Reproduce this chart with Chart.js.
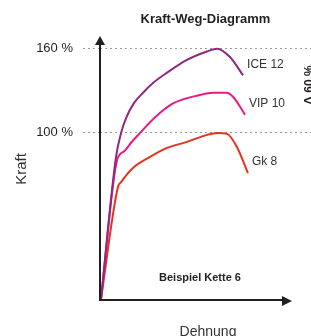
<!DOCTYPE html>
<html>
<head>
<meta charset="utf-8">
<script src="https://cdn.jsdelivr.net/npm/chart.js@4/dist/chart.umd.min.js"></script>
<style>
    html, body { margin: 0; padding: 0; background: #fff; }
    #wrap { width: 311px; height: 336px; }
</style>
</head>
<body>
<div id="wrap"><canvas id="kraftWegChart"></canvas></div>
<script>
// Kraft-Weg-Diagramm (Beispiel Kette 6)

const yTicks = [100, 160];

const dehnungICE = [0.5, 7.5, 10, 12.5, 16, 20.4, 25.5, 31.8, 41.2, 50.7, 55.5, 61.6, 67.8];
const kraftICE   = [-18, 82, 100, 111, 121, 128.6, 136, 142.9, 152, 158, 160, 154, 141];

const dehnungVIP = [0.5, 8.1, 11.5, 15, 19, 26, 34.6, 47.4, 53.6, 60.2, 63, 66.4, 68.7];
const kraftVIP   = [-18, 80.7, 87, 93.5, 100, 111, 121, 127, 128.6, 128.6, 125.7, 118.6, 112.9];

const dehnungGk = [0.5, 8.5, 10, 15.6, 23.7, 31.8, 41.2, 50.7, 55.5, 60.2, 64.9, 70.1];
const kraftGk   = [-18, 61.4, 65, 75, 82.9, 89.3, 93.6, 98.6, 100, 99.3, 90, 71.4];

const seriesNames = ['ICE 12', 'VIP 10', 'Gk 8'];
const seriesColors = ['#8e2a7d', '#e8197f', '#e8321e'];

function toPoints(xs, ys) {
    return xs.map((x, i) => ({ x: x, y: ys[i] }));
}

const textColor = '#231f20';
const fontFamily = '"Liberation Sans", Arial, sans-serif';

// axes with arrows + free texts
const decorPlugin = {
    id: 'decor',
    afterDraw(chart) {
        const ctx = chart.ctx;
        const xs = chart.scales.x;
        const ys = chart.scales.y;
        const ox = xs.getPixelForValue(0);
        const oy = ys.bottom;

        ctx.save();
        ctx.strokeStyle = textColor;
        ctx.fillStyle = textColor;
        ctx.lineWidth = 2;

        // y axis
        ctx.beginPath();
        ctx.moveTo(ox, oy + 1);
        ctx.lineTo(ox, ys.top + 6);
        ctx.stroke();
        ctx.beginPath();
        ctx.moveTo(ox, ys.top);
        ctx.lineTo(ox - 5, ys.top + 9);
        ctx.lineTo(ox + 5, ys.top + 9);
        ctx.closePath();
        ctx.fill();

        // x axis
        const xEnd = 292;
        ctx.beginPath();
        ctx.moveTo(ox - 1, oy);
        ctx.lineTo(xEnd - 6, oy);
        ctx.stroke();
        ctx.beginPath();
        ctx.moveTo(xEnd, oy + 1);
        ctx.lineTo(xEnd - 10, oy - 4);
        ctx.lineTo(xEnd - 10, oy + 6);
        ctx.closePath();
        ctx.fill();

        // series labels next to the curve ends
        ctx.font = '12px ' + fontFamily;
        ctx.textAlign = 'left';
        ctx.textBaseline = 'middle';
        chart.data.datasets.forEach((ds, i) => {
            const last = ds.data[ds.data.length - 1];
            const px = xs.getPixelForValue(last.x);
            const py = ys.getPixelForValue(last.y);
            ctx.fillStyle = '#333';
            ctx.fillText(seriesNames[i], px + 4, py - 11);
        });

        // axis titles
        ctx.fillStyle = '#333';
        ctx.font = '14px ' + fontFamily;
        ctx.textAlign = 'center';
        ctx.fillText('Dehnung', 208, 332);

        ctx.save();
        ctx.translate(22, 169);
        ctx.rotate(-Math.PI / 2);
        ctx.font = '15px ' + fontFamily;
        ctx.fillText('Kraft', 0, 0);
        ctx.restore();

        ctx.fillStyle = textColor;
        ctx.font = 'bold 11px ' + fontFamily;
        ctx.fillText('Beispiel Kette 6', 200, 278);

        ctx.save();
        ctx.translate(309.5, 85);
        ctx.rotate(-Math.PI / 2);
        ctx.font = 'bold 12px ' + fontFamily;
        ctx.fillText('\u0394 60 %', 0, 0);
        ctx.restore();

        ctx.restore();
    }
};

const ctx = document.getElementById('kraftWegChart').getContext('2d');

new Chart(ctx, {
    type: 'line',
    data: {
        datasets: [
            { label: seriesNames[0], data: toPoints(dehnungICE, kraftICE), borderColor: seriesColors[0] },
            { label: seriesNames[1], data: toPoints(dehnungVIP, kraftVIP), borderColor: seriesColors[1] },
            { label: seriesNames[2], data: toPoints(dehnungGk, kraftGk), borderColor: seriesColors[2] }
        ]
    },
    options: {
        responsive: true,
        maintainAspectRatio: false,
        animation: false,
        layout: { padding: 0 },
        elements: {
            point: { radius: 0 },
            line: { borderWidth: 2, cubicInterpolationMode: 'monotone', fill: false }
        },
        scales: {
            x: {
                type: 'linear',
                min: 0,
                max: 100,
                ticks: { display: false },
                grid: { display: false },
                border: { display: false },
                afterFit: s => { s.height = 36; }
            },
            y: {
                type: 'linear',
                min: -19,
                max: 169,
                afterBuildTicks: s => { s.ticks = yTicks.map(v => ({ value: v })); },
                afterFit: s => { s.width = 100; },
                ticks: {
                    padding: 10,
                    color: textColor,
                    font: { size: 13, family: fontFamily },
                    callback: v => v + ' %'
                },
                grid: {
                    color: '#9a9a9a',
                    tickColor: '#9a9a9a',
                    tickLength: 17,
                    tickBorderDash: [2, 3],
                    lineWidth: 1
                },
                border: { display: false, dash: [2, 3] }
            }
        },
        plugins: {
            legend: { display: false },
            tooltip: { enabled: false },
            title: {
                display: true,
                text: 'Kraft-Weg-Diagramm',
                fullSize: false,
                color: textColor,
                font: { size: 13, weight: 'bold', family: fontFamily },
                padding: { top: 12, bottom: 8.4 }
            }
        }
    },
    plugins: [decorPlugin]
});
</script>
</body>
</html>
